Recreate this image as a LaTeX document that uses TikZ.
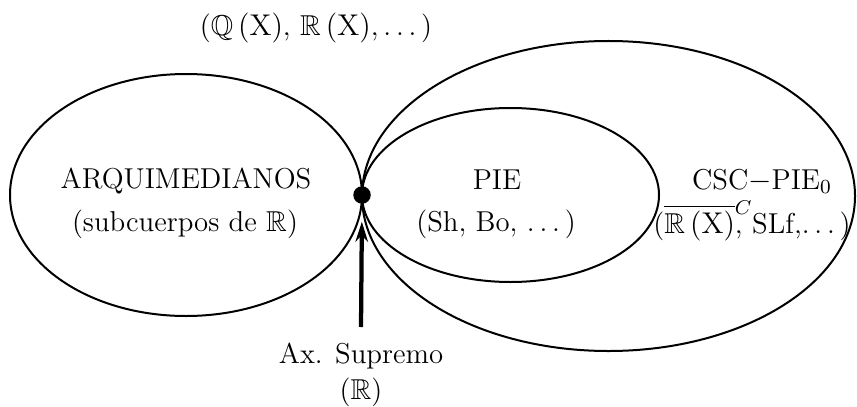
\documentclass[tikz,border=0pt]{standalone}
\usepackage{amssymb}
\usetikzlibrary{arrows.meta}
\begin{document}
\begin{tikzpicture}[x=0.4pt,y=-0.4pt,
  set/.style={line width=0.8pt},
  lbl/.style={anchor=base,inner sep=0pt,font=\fontsize{11.5}{13.5}\selectfont},
  push/.style={line width=1.7pt,-{Stealth[length=8pt,width=5pt]}}]
\useasboundingbox (0,0) rectangle (857,406);
\draw[set] (186,195) ellipse [x radius=176, y radius=121];
\draw[set] (608.5,196) ellipse [x radius=246.5, y radius=155];
\draw[set] (510.5,195) ellipse [x radius=148.5, y radius=87];
\node[circle,fill=black,inner sep=0pt,minimum size=7pt] (dot) at (362,195) {};
\node[lbl] (top) at (316,36) {($\mathbb{Q}\,(\mathrm{X})$, $\mathbb{R}\,(\mathrm{X})$,\,.\,.\,.\,)};
\node[lbl] (arq) at (186,188) {ARQUIMEDIANOS};
\node[lbl] (arqs) at (185,231) {(subcuerpos de $\mathbb{R}$)};
\node[lbl] (pie) at (497,189) {PIE};
\node[lbl] (pies) at (496,231) {(Sh, Bo, .\,.\,.\,)};
\node[lbl] (csc) at (762,189) {CSC$-$PIE$_0$};
\node[lbl] (cscs) at (752,233) {($\overline{\mathbb{R}\,(\mathrm{X})}$\rlap{\raisebox{3pt}{$^{C}$}}, SLf,.\,.\,.\,)};
\node[lbl,align=center,anchor=north] (ax) at (361,342) {Ax. Supremo\\[1pt]($\mathbb{R}$)};
\draw[push,shorten >=7pt] (ax.north) ++(0,-15) coordinate (axtop) (axtop) -- (dot.south);
\end{tikzpicture}
\end{document}
